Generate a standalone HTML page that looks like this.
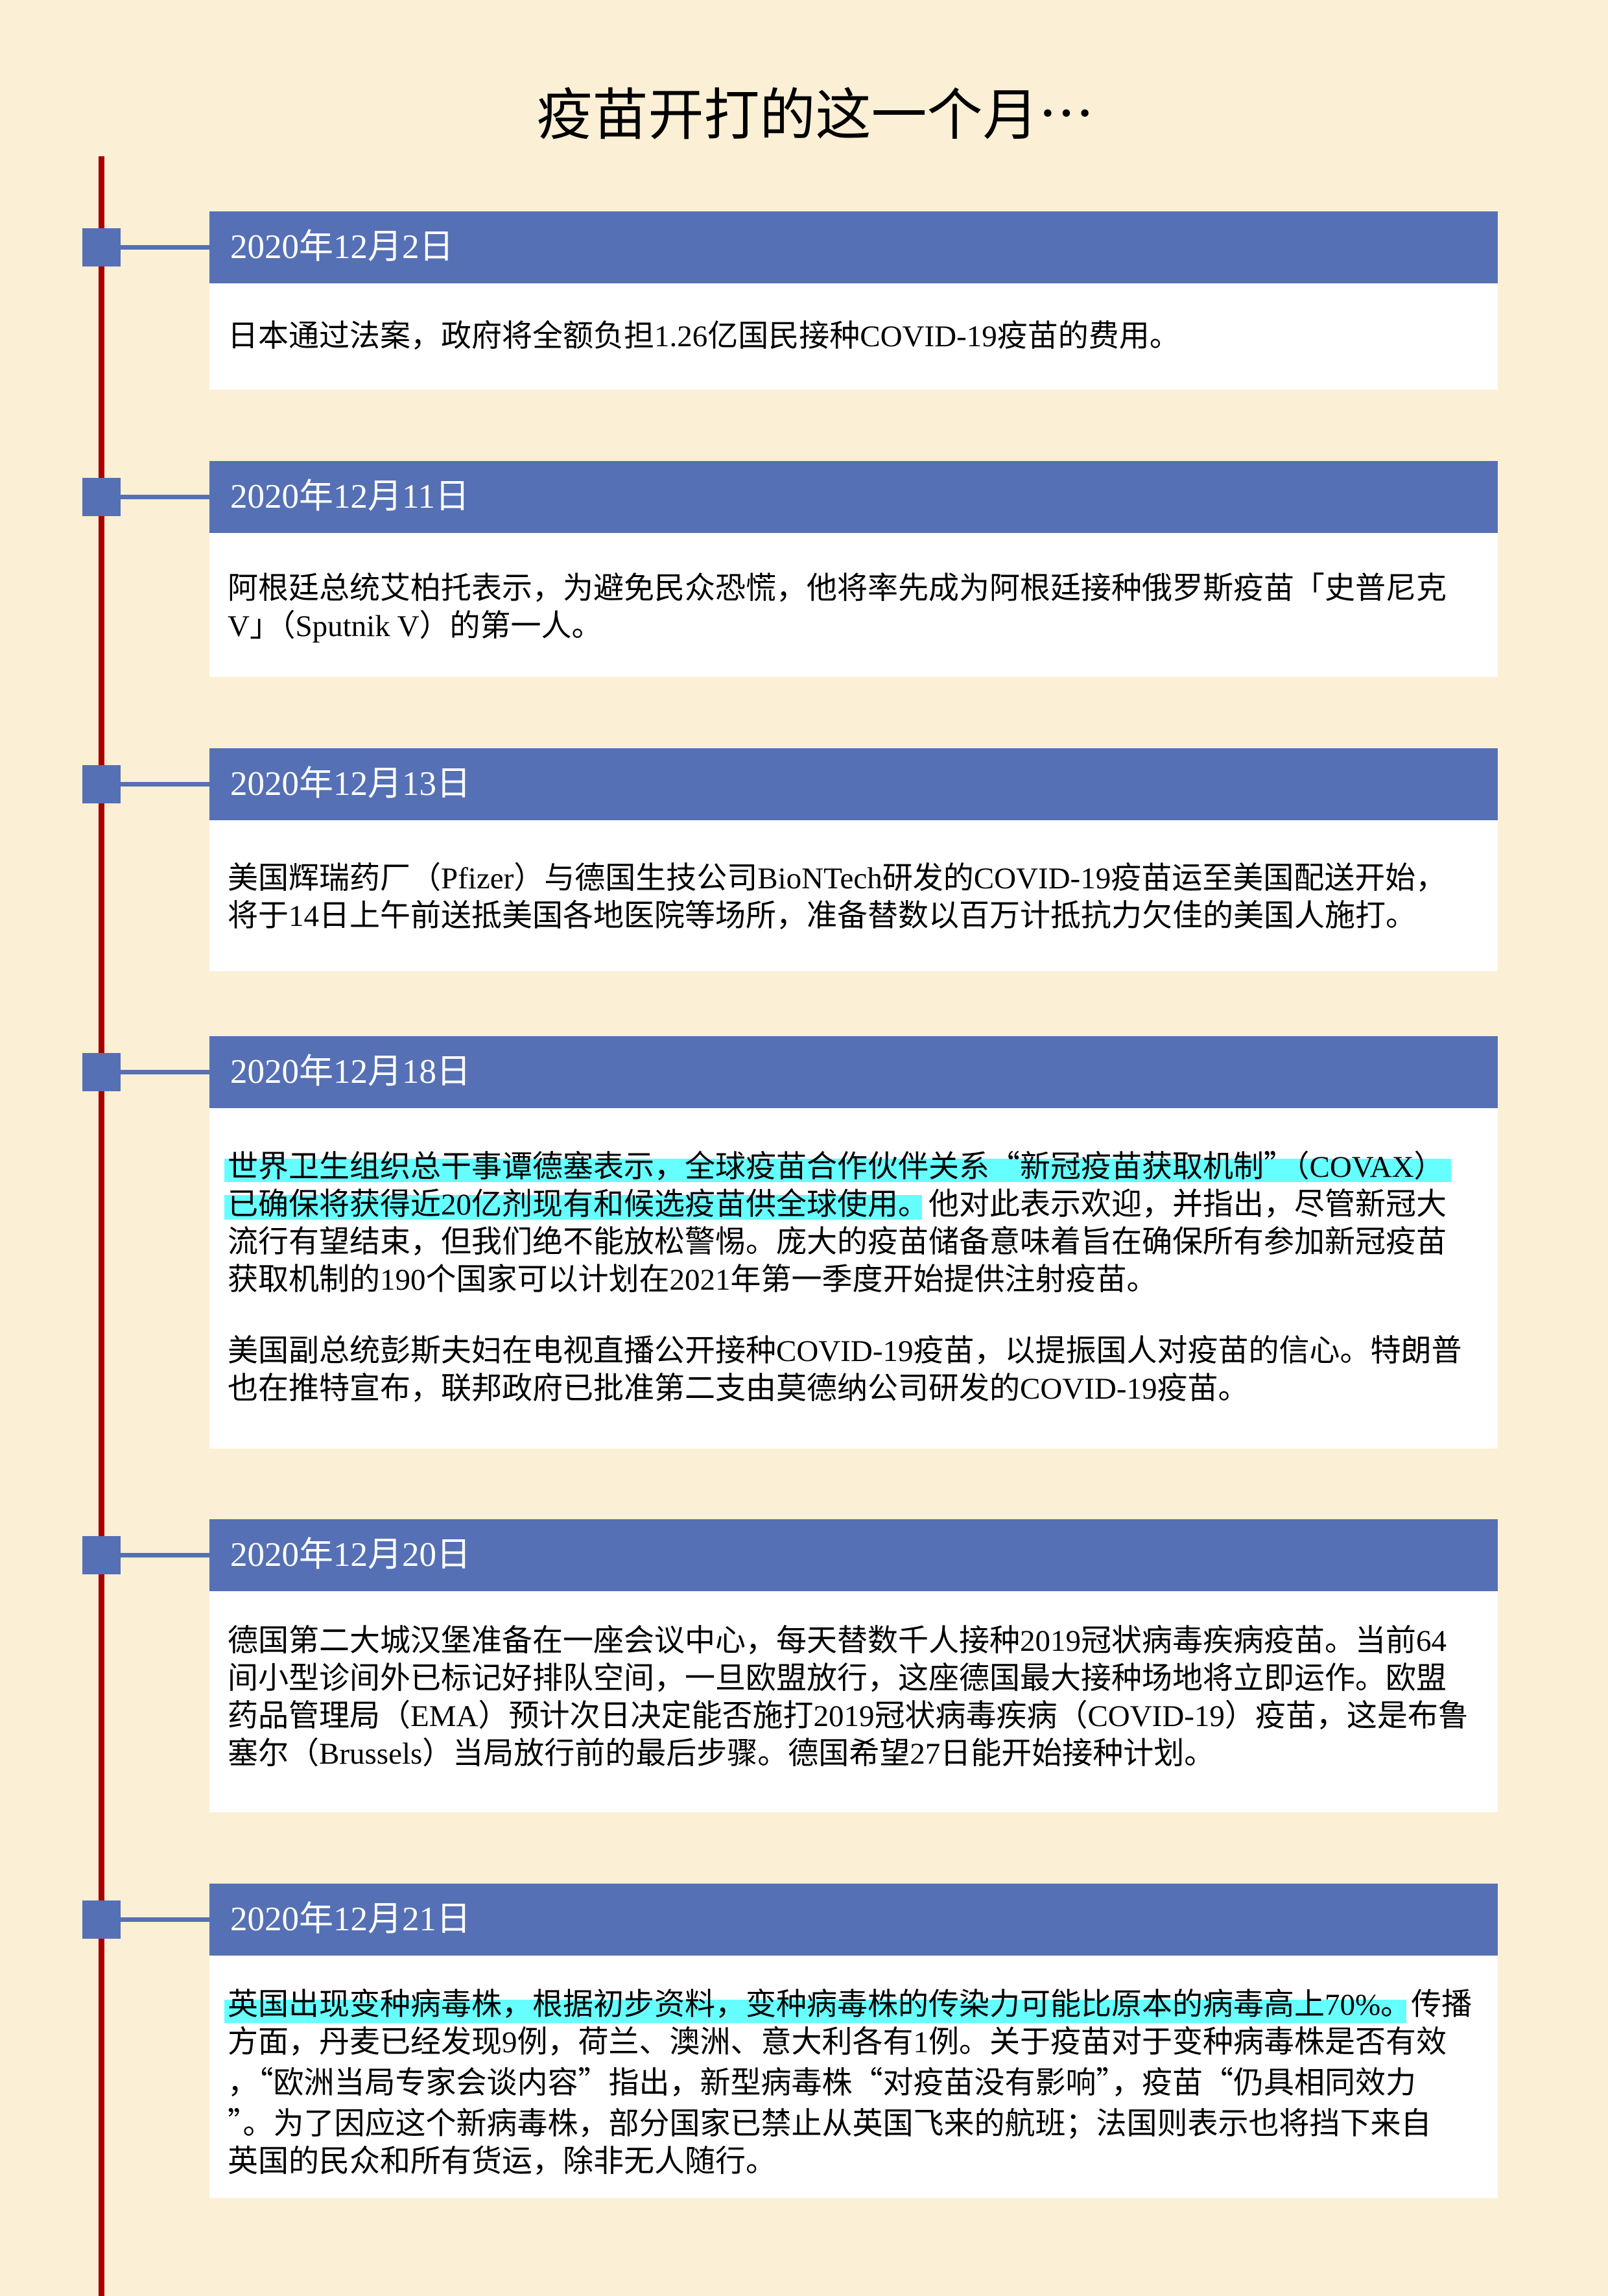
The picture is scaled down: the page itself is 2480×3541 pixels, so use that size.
<!DOCTYPE html>
<html><head><meta charset="utf-8"><style>
html,body{margin:0;padding:0}
body{width:2480px;height:3508px;background:#fbefd5;position:relative;overflow:hidden;font-family:"Liberation Serif","Noto Sans CJK SC",sans-serif;}
.title{position:absolute;left:0;width:2515px;top:115px;text-align:center;font-family:"Noto Sans CJK SC",sans-serif;font-size:86px;line-height:110px;color:#000}
.vline{position:absolute;left:152px;top:241px;width:9px;height:3300px;background:#a80000}
.card{position:absolute;left:323px;width:1987px;background:#fff}
.hdr{position:absolute;left:0;top:0;width:100%;height:111px;background:#5570b4;color:#fff;font-size:53px;line-height:111px;padding-left:32px;box-sizing:border-box}
.sq{position:absolute;left:127px;width:59px;height:59px;background:#5570b4}
.conn{position:absolute;left:186px;width:137px;height:7px;background:#5570b4}
.txt{position:absolute;left:351px;font-size:47px;line-height:58px;white-space:nowrap;color:#000}
.q{font-family:"Noto Sans CJK SC",sans-serif}
.hl{position:absolute;background:#66ffff}
</style></head><body>
<div class="title">疫苗开打的这一个月…</div>
<div class="vline"></div>

<div class="card" style="top:326px;height:275px"><div class="hdr">2020年12月2日</div></div>
<div class="sq" style="top:352px"></div><div class="conn" style="top:378px"></div>
<div class="txt" style="top:490px">日本通过法案，政府将全额负担1.26亿国民接种COVID-19疫苗的费用。</div>

<div class="card" style="top:711px;height:333px"><div class="hdr">2020年12月11日</div></div>
<div class="sq" style="top:737px"></div><div class="conn" style="top:763px"></div>
<div class="txt" style="top:879px">阿根廷总统艾柏托表示，为避免民众恐慌，他将率先成为阿根廷接种俄罗斯疫苗「史普尼克<br>V」（Sputnik V）的第一人。</div>

<div class="card" style="top:1154px;height:344px"><div class="hdr">2020年12月13日</div></div>
<div class="sq" style="top:1180px"></div><div class="conn" style="top:1206px"></div>
<div class="txt" style="top:1326px">美国辉瑞药厂（Pfizer）与德国生技公司BioNTech研发的COVID-19疫苗运至美国配送开始，<br>将于14日上午前送抵美国各地医院等场所，准备替数以百万计抵抗力欠佳的美国人施打。</div>

<div class="card" style="top:1598px;height:636px"><div class="hdr">2020年12月18日</div></div>
<div class="sq" style="top:1624px"></div><div class="conn" style="top:1650px"></div>
<div class="hl" style="left:346px;top:1787px;width:1892px;height:36px"></div>
<div class="hl" style="left:346px;top:1843px;width:1076px;height:38px"></div>
<div class="txt" style="top:1766px">世界卫生组织总干事谭德塞表示，全球疫苗合作伙伴关系<span class="q">“</span>新冠疫苗获取机制<span class="q">”</span>（COVAX）<br>已确保将获得近20亿剂现有和候选疫苗供全球使用。他对此表示欢迎，并指出，尽管新冠大<br>流行有望结束，但我们绝不能放松警惕。庞大的疫苗储备意味着旨在确保所有参加新冠疫苗<br>获取机制的190个国家可以计划在2021年第一季度开始提供注射疫苗。</div>
<div class="txt" style="top:2055px">美国副总统彭斯夫妇在电视直播公开接种COVID-19疫苗，以提振国人对疫苗的信心。特朗普<br>也在推特宣布，联邦政府已批准第二支由莫德纳公司研发的COVID-19疫苗。</div>

<div class="card" style="top:2343px;height:452px"><div class="hdr">2020年12月20日</div></div>
<div class="sq" style="top:2369px"></div><div class="conn" style="top:2395px"></div>
<div class="txt" style="top:2502px">德国第二大城汉堡准备在一座会议中心，每天替数千人接种2019冠状病毒疾病疫苗。当前64<br>间小型诊间外已标记好排队空间，一旦欧盟放行，这座德国最大接种场地将立即运作。欧盟<br>药品管理局（EMA）预计次日决定能否施打2019冠状病毒疾病（COVID-19）疫苗，这是布鲁<br>塞尔（Brussels）当局放行前的最后步骤。德国希望27日能开始接种计划。</div>

<div class="card" style="top:2905px;height:485px"><div class="hdr">2020年12月21日</div></div>
<div class="sq" style="top:2931px"></div><div class="conn" style="top:2957px"></div>
<div class="hl" style="left:346px;top:3084px;width:1823px;height:36px"></div>
<div class="txt" style="top:3063px">英国出现变种病毒株，根据初步资料，变种病毒株的传染力可能比原本的病毒高上70%。传播<br>方面，丹麦已经发现9例，荷兰、澳洲、意大利各有1例。关于疫苗对于变种病毒株是否有效<br>，<span class="q">“</span>欧洲当局专家会谈内容<span class="q">”</span>指出，新型病毒株<span class="q">“</span>对疫苗没有影响<span class="q">”</span>，疫苗<span class="q">“</span>仍具相同效力<br><span class="q">”</span>。为了因应这个新病毒株，部分国家已禁止从英国飞来的航班；法国则表示也将挡下来自<br>英国的民众和所有货运，除非无人随行。</div>
</body></html>
